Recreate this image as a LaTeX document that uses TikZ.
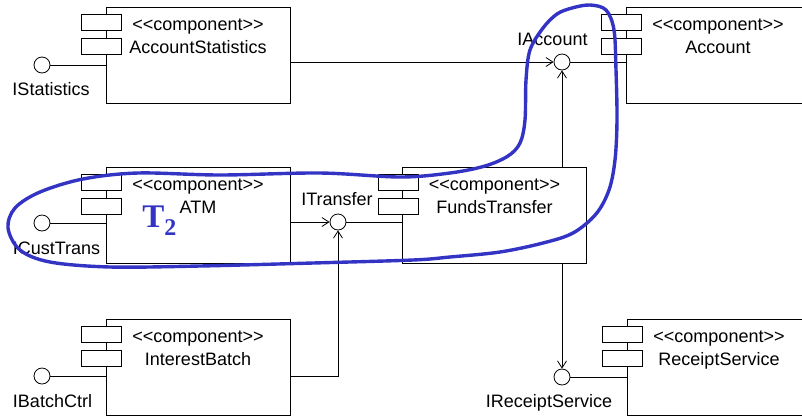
\documentclass[tikz,border=0pt]{standalone}
\usepackage{fontspec}
\newfontfamily\umlfont{Liberation Sans}
\newfontfamily\tserif{Liberation Serif}
\usepackage{xcolor}
\usetikzlibrary{arrows.meta, positioning}
\definecolor{penblue}{RGB}{52,52,196}

\begin{document}
\begin{tikzpicture}[
    x=1pt, y=-1pt, line width=0.8pt,
    node distance=9pt,
    comp/.style={rectangle, draw, inner sep=0pt, minimum width=184pt, text height=46pt, text depth=50pt, align=center, font=\umlfont\fontsize{18}{23}\selectfont},
    iface/.style={circle, draw, fill=white, inner sep=0pt, minimum size=16pt},
    lbl/.style={inner sep=0pt, font=\umlfont\fontsize{18}{22}\selectfont},
    arrow/.style={-{Straight Barb[length=7pt,width=9pt]}}
]
\clip (0,0) rectangle (802,416);

% components
\node[comp] (stats) at (198,55) {<<component>>\\AccountStatistics};
\node[comp] (account) at (718,55) {<<component>>\\Account};
\node[comp] (atm) at (198,215) {<<component>>\\ATM};
\node[comp] (funds) at (494.5,215) {<<component>>\\FundsTransfer};
\node[comp] (batch) at (198,367) {<<component>>\\InterestBatch};
\node[comp] (receipt) at (719,367) {<<component>>\\ReceiptService};

\foreach \c in {stats,account,atm,funds,batch,receipt} {
    \draw[fill=white] ([xshift=-24pt,yshift=-8pt]\c.north west) rectangle ++(40,16);
    \draw[fill=white] ([xshift=-24pt,yshift=-32pt]\c.north west) rectangle ++(40,16);
}

% interfaces
\node[iface] (istat) at (42,65) {};
\node[iface] (iaccount) at (562,62) {};
\node[iface] (icust) at (42,223) {};
\node[iface] (itransfer) at (338,222) {};
\node[iface] (ibatch) at (42,376) {};
\node[iface] (ireceipt) at (562,377) {};

\node[lbl, below=of istat, xshift=9pt] (lstat) {IStatistics};
\node[lbl, above=8pt of iaccount, xshift=-9.5pt] (laccount) {IAccount};
\node[lbl, below=10pt of icust, xshift=14.5pt] (lcust) {ICustTrans};
\node[lbl, above=8pt of itransfer, xshift=-1pt] (ltransfer) {ITransfer};
\node[lbl, below=10pt of ibatch, xshift=10.5pt] (lbatch) {IBatchCtrl};
\node[lbl, below=of ireceipt, xshift=-13pt] (lreceipt) {IReceiptService};

% connectors
\draw (istat) -- (istat -| stats.west);
\draw[arrow] (iaccount -| stats.east) -- (iaccount);
\draw (iaccount) -- (iaccount -| account.west);
\draw[arrow] (iaccount |- funds.north) -- (iaccount);
\draw (icust) -- (icust -| atm.west);
\draw[arrow] (itransfer -| atm.east) -- (itransfer);
\draw (itransfer) -- (itransfer -| funds.west);
\draw[arrow] (ibatch -| batch.east) -| (itransfer);
\draw (ibatch) -- (ibatch -| batch.west);
\draw[arrow] (ireceipt |- funds.south) -- (ireceipt);
\draw (ireceipt) -- (ireceipt -| receipt.west);

% hand drawn loop
\draw[penblue, line width=3.4pt] plot[smooth cycle, tension=0.55] coordinates {
    (572,8) (590,5) (606,10) (614,30) (616,70) (617,120) (615,160) (609,190)
    (596,214) (573,233) (543,243) (500,252) (450,257) (413,260) (313,263)
    (200,266) (110,267) (50,262) (20,250) (8,228) (15,208) (40,192) (83,179)
    (138,173) (220,175) (320,173) (400,177) (450,173) (485,166) (508,156)
    (520,143) (525,120) (526,80) (530,50) (543,28) (557,14)};
\node[text=penblue, font=\tserif\bfseries\fontsize{33}{33}\selectfont, anchor=base west, inner sep=0pt] (t2) at (142,227) {T\raisebox{-8pt}{\fontsize{24}{24}\selectfont 2}};
\end{tikzpicture}
\end{document}
